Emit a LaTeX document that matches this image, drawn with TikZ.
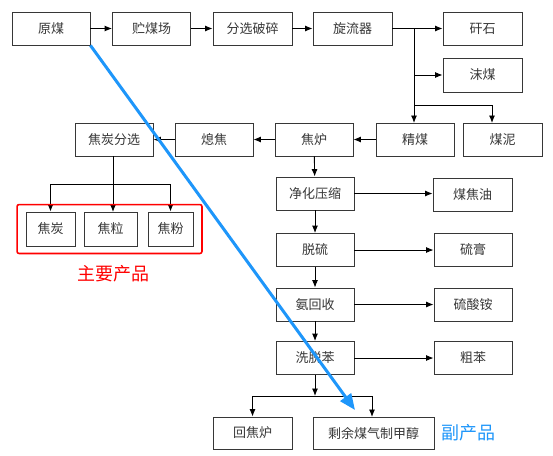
\documentclass[tikz,border=0pt]{standalone}
\usepackage{fontspec}
\newfontfamily\cjk{Noto Sans CJK SC}
\usetikzlibrary{arrows.meta,fit}
\definecolor{boxgray}{RGB}{55,55,55}
\definecolor{arrblue}{RGB}{30,150,250}
\tikzset{
  blk/.style={draw=boxgray, line width=0.9pt, minimum width=78pt, minimum height=33pt,
    inner sep=0pt, text=boxgray, font=\cjk\fontsize{13}{15}\selectfont},
  flow/.style={->, line width=0.9pt, black}
}
\begin{document}
\begin{tikzpicture}[x=1pt, y=-1pt, >={Latex[length=7.5pt,width=6pt]}]
    \useasboundingbox[fill=white] (0,0) rectangle (553,455);

    % top row
    \node[blk] (yuanmei) at (51,28.5) {原煤};
    \node[blk] (zhumei) at (151.5,28.5) {贮煤场};
    \node[blk, minimum width=79pt] (fenxuan) at (252.5,28.5) {分选破碎};
    \node[blk, minimum width=79pt] (xuanliu) at (352.5,28.5) {旋流器};
    \node[blk, minimum width=79pt] (ganshi) at (482.5,28.5) {矸石};
    \node[blk, minimum width=79pt, minimum height=34pt] (momei) at (482.5,75) {沫煤};

    % second row
    \node[blk] (jingmei) at (415,139.5) {精煤};
    \node[blk, minimum width=79pt] (meini) at (502.5,139.5) {煤泥};
    \node[blk] (jiaolu) at (314,139.5) {焦炉};
    \node[blk] (xijiao) at (214,139.5) {熄焦};
    \node[blk] (jtfx) at (114,139.5) {焦炭分选};

    % main products
    \node[blk, minimum width=49pt, minimum height=34pt] (jiaotan) at (50.5,229) {焦炭};
    \node[blk, minimum width=53pt, minimum height=34pt] (jiaoli) at (110.5,229) {焦粒};
    \node[blk, minimum width=45pt, minimum height=34pt] (jiaofen) at (170.5,229) {焦粉};

    % gas treatment
    \node[blk] (jinghua) at (315,193.5) {净化压缩};
    \node[blk, minimum width=79pt] (meijiaoyou) at (472.5,194.5) {煤焦油};
    \node[blk] (tuoliu) at (315,250) {脱硫};
    \node[blk] (liugao) at (473,250) {硫膏};
    \node[blk] (anhuishou) at (315,304.5) {氨回收};
    \node[blk] (liusuanan) at (473,304.5) {硫酸铵};
    \node[blk] (xituoben) at (315,358) {洗脱苯};
    \node[blk] (cuben) at (473,358) {粗苯};
    \node[blk, minimum width=79pt, minimum height=32pt] (huijiaolu) at (252.5,433) {回焦炉};
    \node[blk, minimum width=121pt, minimum height=32pt] (shengyu) at (373.5,433) {剩余煤气制甲醇};

    % connectors
    \draw[flow] (yuanmei) -- (zhumei);
    \draw[flow] (zhumei) -- (fenxuan);
    \draw[flow] (fenxuan) -- (xuanliu);
    \coordinate (fork) at (414,28.5);
    \draw[line width=0.9pt] (xuanliu) -- (fork);
    \draw[flow] (fork) -- (ganshi);
    \draw[flow] (fork) -- (414,123);
    \draw[flow] (fork |- momei) -- (momei);
    \coordinate (fork2) at (414,105);
    \draw[flow] (fork2) -| (492,123);
    \draw[flow] (jingmei) -- (jiaolu);
    \draw[flow] (jiaolu) -- (xijiao);
    \draw[flow] (xijiao) -- (jtfx);

    \coordinate (split) at (113,184);
    \draw[line width=0.9pt] (113,156) -- (split);
    \draw[flow] (split) -| (jiaotan.north);
    \draw[flow] (split) -- (113,212);
    \draw[flow] (split) -| (jiaofen.north);

    \draw[flow] (jiaolu) -- (jinghua);
    \draw[flow] (jinghua) -- (jinghua.east -| meijiaoyou.west);
    \draw[flow] (jinghua) -- (tuoliu);
    \draw[flow] (tuoliu) -- (liugao);
    \draw[flow] (tuoliu) -- (anhuishou);
    \draw[flow] (anhuishou) -- (liusuanan);
    \draw[flow] (anhuishou) -- (xituoben);
    \draw[flow] (xituoben) -- (cuben);

    \coordinate (split2) at (315,396);
    \draw[flow] (xituoben) -- (split2);
    \draw[flow] (split2) -| (huijiaolu.north);
    \draw[flow] (split2) -| (372,417);

    % highlights
    \node[draw=red, line width=1.6pt, rounded corners=2pt, inner xsep=8.5pt, inner ysep=7pt,
      fit=(jiaotan)(jiaofen)] (mainbox) {};
    \node[text=red, font=\cjk\fontsize{18}{20}\selectfont] (mainlbl) at (113,274) {主要产品};
    \coordinate (tip) at (355,410);
    \draw[arrblue, line width=3pt, -{Triangle[length=16pt,width=13pt]}] (yuanmei.south east) -- (tip);
    \node[text=arrblue, font=\cjk\fontsize{18}{20}\selectfont] (bylbl) at (468,433) {副产品};
\end{tikzpicture}
\end{document}
